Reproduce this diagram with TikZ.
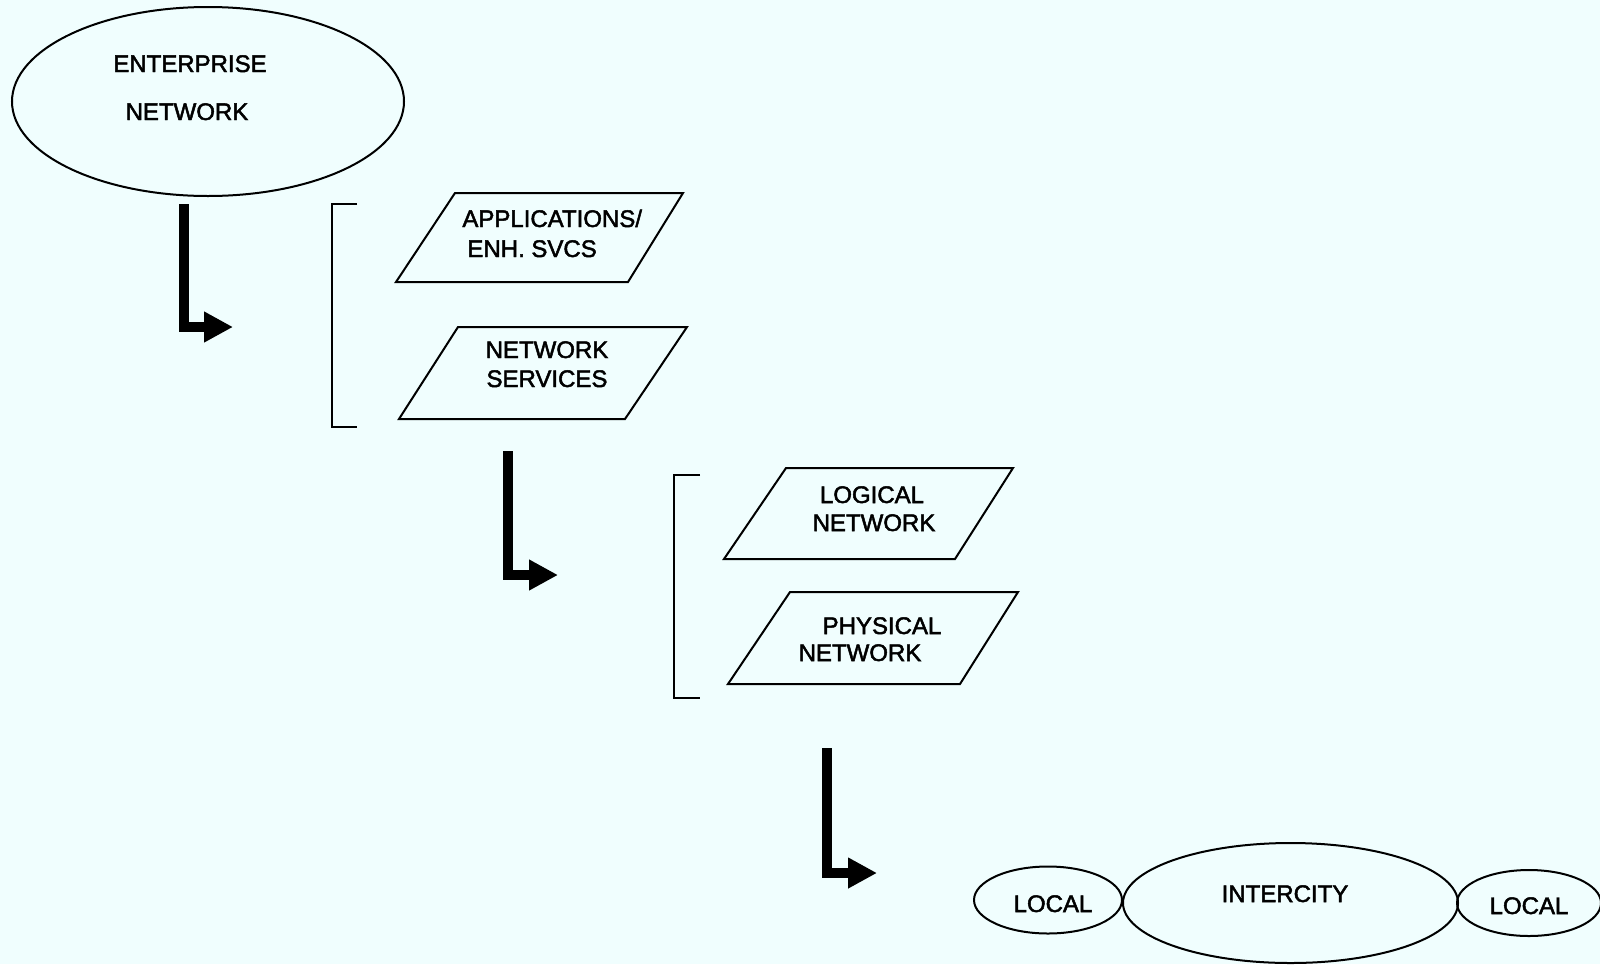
\documentclass[tikz,border=0pt]{standalone}
\usepackage{fontspec}
\setmainfont{Liberation Sans}[FakeBold=2]
\usetikzlibrary{arrows.meta,shapes.geometric}
\definecolor{paper}{RGB}{240,254,254}
\begin{document}
\begin{tikzpicture}[x=0.5pt,y=-0.5pt,
  outline/.style={draw=black, line width=1pt},
  oval/.style={ellipse, outline, inner sep=0pt},
  caption/.style={font=\fontsize{12}{14}\selectfont, inner sep=0pt},
  flow/.style={line width=5pt, line join=miter,
    -{Triangle[length=14.5pt,width=14.5pt]}},
  bracket/.style={line width=0.8pt}]

% page
\fill[paper] (0,0) rectangle (1600,964);
\path[use as bounding box] (0,0) rectangle (1600,964);

% enterprise network
\node[oval, minimum width=196pt, minimum height=94.5pt] (ent) at (208,101.5) {};
\node[caption, anchor=base] (entA) at (190,72) {ENTERPRISE};
\node[caption, anchor=base] (entB) at (187,120) {NETWORK};

% first level
\coordinate (a1s) at (184,204);
\coordinate (a1e) at (233,327);
\draw[flow] (a1s) |- (a1e);

\coordinate (b1t) at (357,204);
\coordinate (b1b) at (357,427);
\draw[bracket] (b1t) -| (332,427) -- (b1b);

\draw[outline] (455,193) coordinate (appTL) -- (683,193) -- (628,282) -- (396,282) -- cycle;
\node[caption, anchor=base west] (appA) at (462,227) {APPLICATIONS/};
\node[caption, anchor=base west] (appB) at (467,257) {ENH. SVCS};

\draw[outline] (458,327) coordinate (svcTL) -- (687,327) -- (625,419) -- (399,419) -- cycle;
\node[caption, anchor=base] (svcA) at (547,358) {NETWORK};
\node[caption, anchor=base] (svcB) at (547,387) {SERVICES};

% second level
\coordinate (a2s) at (508,451);
\coordinate (a2e) at (558,575);
\draw[flow] (a2s) |- (a2e);

\coordinate (b2t) at (700,475);
\coordinate (b2b) at (700,698);
\draw[bracket] (b2t) -| (674,698) -- (b2b);

\draw[outline] (786,468) coordinate (logTL) -- (1013,468) -- (955,559) -- (724,559) -- cycle;
\node[caption, anchor=base] (logA) at (872,503) {LOGICAL};
\node[caption, anchor=base] (logB) at (874,531) {NETWORK};

\draw[outline] (790,592) coordinate (phyTL) -- (1018,592) -- (960,684) -- (728,684) -- cycle;
\node[caption, anchor=base] (phyA) at (882,634) {PHYSICAL};
\node[caption, anchor=base] (phyB) at (860,661) {NETWORK};

% third level
\coordinate (a3s) at (827,748);
\coordinate (a3e) at (877,873);
\draw[flow] (a3s) |- (a3e);

\node[oval, minimum width=74pt, minimum height=33.5pt] (locL) at (1048,900) {};
\node[caption, anchor=base] (locLt) at (1053,912) {LOCAL};

\node[oval, minimum width=167.5pt, minimum height=60pt] (inter) at (1290.5,903) {};
\node[caption, anchor=base] (intert) at (1285,902) {INTERCITY};

\node[oval, minimum width=72pt, minimum height=33pt] (locR) at (1529,903) {};
\node[caption, anchor=base] (locRt) at (1529,914) {LOCAL};
\end{tikzpicture}
\end{document}
